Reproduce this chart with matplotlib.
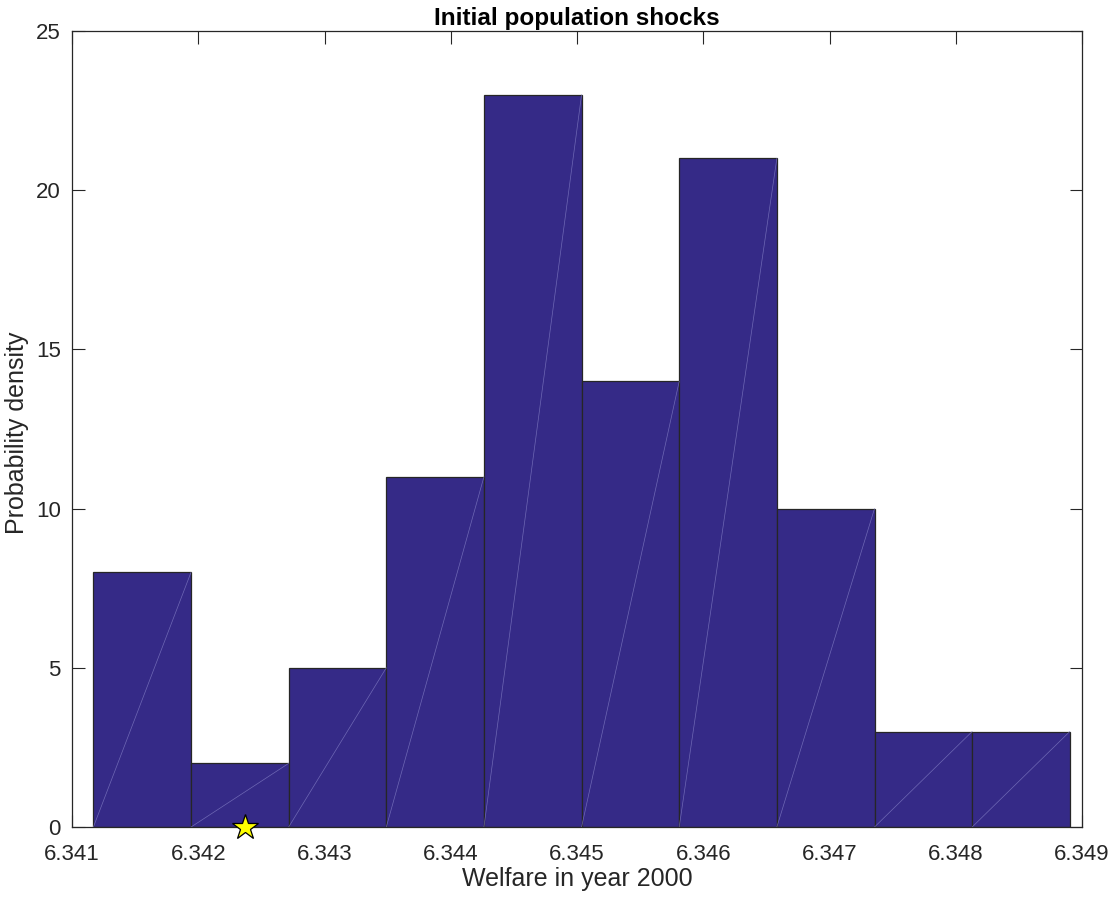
import numpy as np
import matplotlib
matplotlib.use('Agg')
from matplotlib import pyplot as plt

# Histogram data.
bin_lo = 6.341169
bin_hi = 6.348903
counts = [8, 2, 5, 11, 23, 14, 21, 10, 3, 3]
star_x = [6.34237]
star_y = [0]
x_ticks = [6.341, 6.342, 6.343, 6.344, 6.345, 6.346, 6.347, 6.348, 6.349]
y_ticks = [0, 5, 10, 15, 20, 25]

plt.rcParams['font.family'] = ['Liberation Sans', 'DejaVu Sans']

fig = plt.figure(figsize=(11.1, 8.97), dpi=100)
ax = fig.add_axes([0.0649, 0.078, 0.9099, 0.8874])

edges = np.linspace(bin_lo, bin_hi, len(counts) + 1)
widths = np.diff(edges)
ax.bar(edges[:-1], counts, width=widths, align='edge',
       color='#352a87', edgecolor='#262626', linewidth=0.9, zorder=2)

# faint diagonal seams, like the matlab patch rendering
for i, c in enumerate(counts):
    ax.plot([edges[i], edges[i + 1]], [0, c], color='#7d78c0',
            lw=0.5, alpha=0.8, zorder=3)

ax.plot(star_x, star_y, marker='*', markersize=19, color='#ffff00',
        markeredgecolor='black', markeredgewidth=0.9, linestyle='none',
        zorder=5, clip_on=False)

ax.set_xlim(6.341, 6.349)
ax.set_ylim(0, 25)
ax.set_xticks(x_ticks)
ax.set_xticklabels([f'{t:.3f}' for t in x_ticks])
ax.set_yticks(y_ticks)

ax.tick_params(direction='in', length=9, width=0.8, top=True, right=True,
               labelsize=16, colors='#262626')
ax.tick_params(axis='x', pad=12)
ax.tick_params(axis='y', pad=8)
for s in ax.spines.values():
    s.set_color('#262626')
    s.set_linewidth(0.9)

ax.set_xlabel('Welfare in year 2000', fontsize=18, color='#262626', labelpad=2)
ax.set_ylabel('Probability density', fontsize=18, color='#262626')
ax.yaxis.set_label_coords(-0.043, 0.495)
ax.set_title('Initial population shocks', fontsize=17.5, fontweight='bold', pad=4)

fig.savefig('out.png', dpi=100)
